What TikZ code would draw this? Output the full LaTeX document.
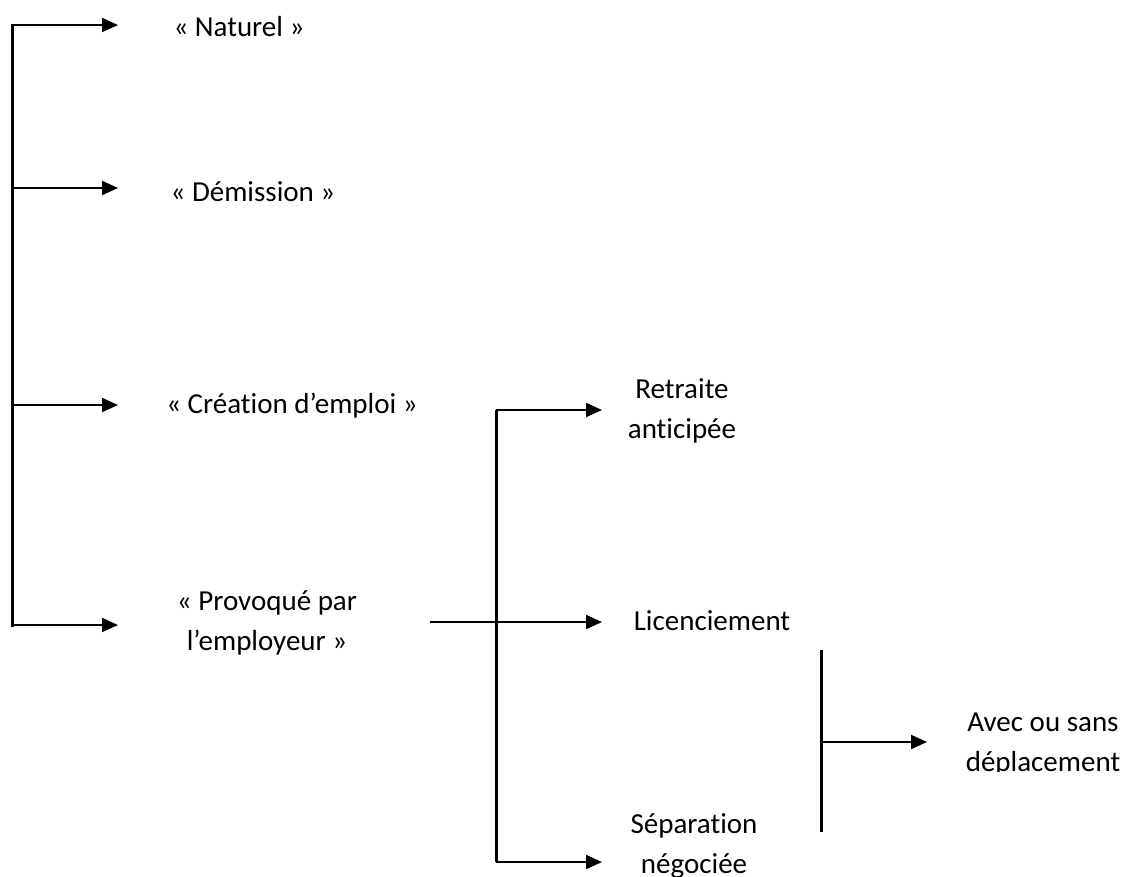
\documentclass[tikz,border=0pt]{standalone}
\usepackage{fontspec}
\setmainfont[RawFeature={-liga;-clig;-dlig}]{Carlito}
\usetikzlibrary{arrows.meta}
\begin{document}
\begin{tikzpicture}[x=1pt,y=-1pt,
  trunk/.style={line width=3pt},
  branch/.style={line width=2pt,-{Triangle[length=16pt,width=14pt]}},
  lbl/.style={font=\fontsize{29}{40}\selectfont,align=center,inner sep=0pt}]
\useasboundingbox (0,0) rectangle (1122,876);
% first level
\coordinate (t1) at (12,25);
\coordinate (t2) at (12,188);
\coordinate (t3) at (12,405);
\coordinate (t4) at (12,625);
\coordinate (a1) at (118,25);
\coordinate (a2) at (118,188);
\coordinate (a3) at (118,405);
\coordinate (a4) at (118,625);
\node[lbl] (nat) at (239,27) {« Naturel »};
\node[lbl] (dem) at (253,192) {« Démission »};
\node[lbl] (cre) at (292,406) {« Création d’emploi »};
\node[lbl] (pro) at (267,623) {« Provoqué par\\l’employeur »};
\draw[trunk,line cap=rect] (t1) -- (t4);
\draw[branch] (t1) -- (a1);
\draw[branch] (t2) -- (a2);
\draw[branch] (t3) -- (a3);
\draw[branch] (t4) -- (a4);
% second level
\coordinate (s0) at (430,622);
\coordinate (v1) at (496,410);
\coordinate (v2) at (496,622);
\coordinate (v3) at (496,862);
\coordinate (b1) at (602,410);
\coordinate (b2) at (602,622);
\coordinate (b3) at (602,862);
\node[lbl] (ret) at (682,411) {Retraite\\anticipée};
\node[lbl] (lic) at (712,621) {Licenciement};
\node[lbl] (sep) at (694,846) {Séparation\\négociée};
\draw[trunk] (v1) -- (v3);
\draw[branch] (s0) -- (b2);
\draw[branch] (v1) -- (b1);
\draw[branch] (v3) -- (b3);
% third level
\coordinate (w1) at (821,650);
\coordinate (w2) at (821,742);
\coordinate (w3) at (821,832);
\coordinate (c1) at (927,742);
\begin{scope}
\clip (930,690) rectangle (1122,771);
\node[lbl] (ave) at (1043,745) {Avec ou sans\\déplacement};
\end{scope}
\draw[trunk] (w1) -- (w3);
\draw[branch] (w2) -- (c1);
\end{tikzpicture}
\end{document}
